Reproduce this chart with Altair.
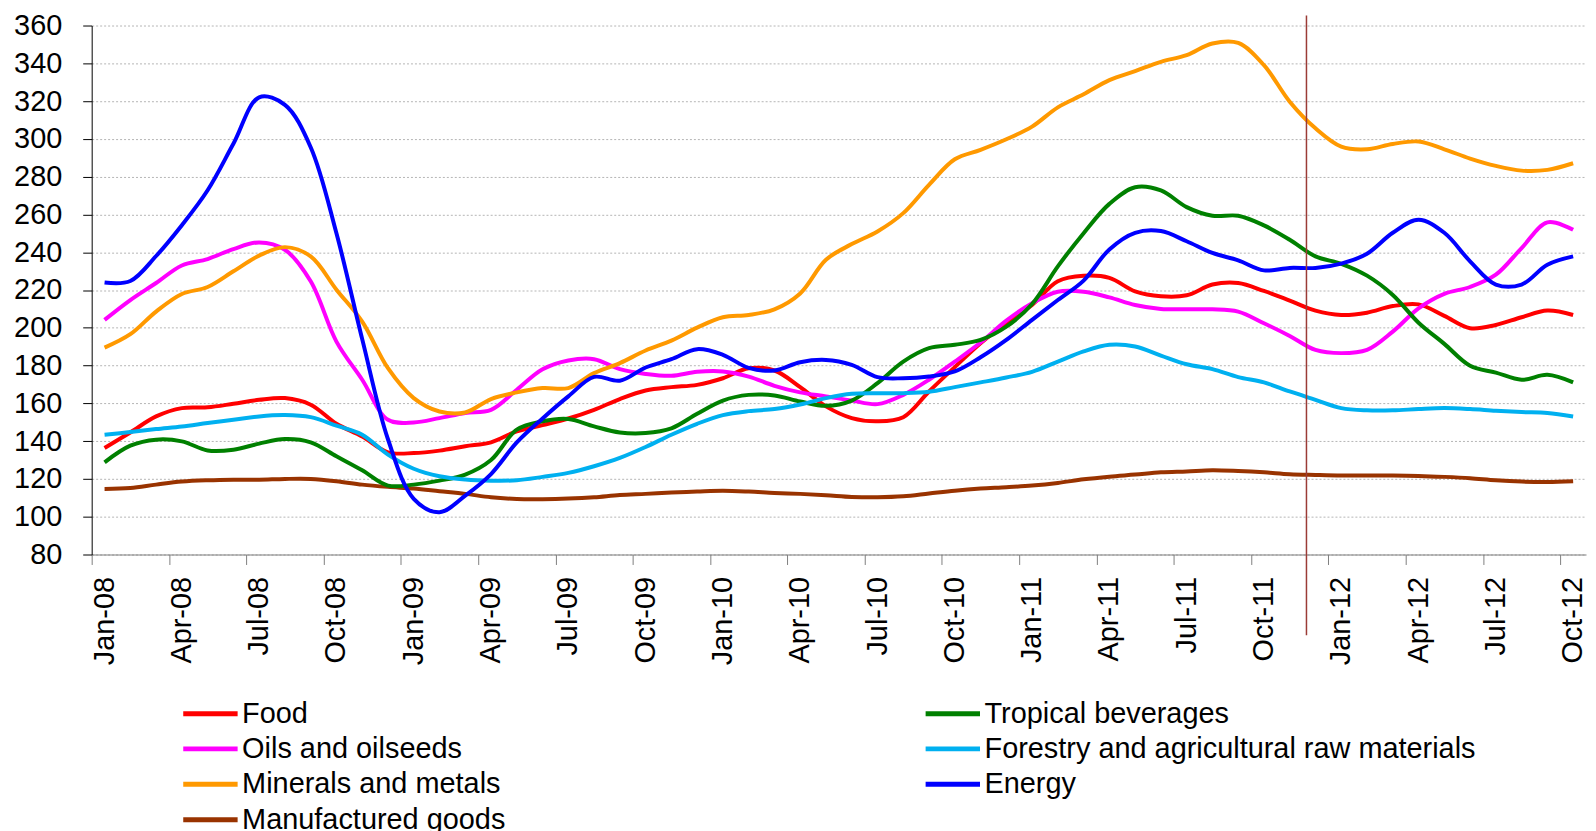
import altair as alt
import pandas as pd

months = [f"{m}-{y:02d}" for y in range(8, 13) for m in
          ["Jan", "Feb", "Mar", "Apr", "May", "Jun", "Jul", "Aug", "Sep", "Oct", "Nov", "Dec"]][:58]

food = [136.4, 144.6, 153.1, 157.5, 157.9, 159.8, 161.9, 162.8, 159.3, 149.2,
        142.5, 134.1, 133.7, 135, 137.3, 139.4, 145.2, 148.5, 152, 156.6,
        162.3, 166.8, 168.6, 169.8, 173.3, 178.6, 177.4, 168.6, 158.4, 152.2,
        150.5, 152.7, 166.3, 179.2, 191.8, 202.7, 212.1, 224.6, 227.5, 226.4,
        219.3, 216.7, 217.2, 222.9, 223.7, 219.5, 214.4, 209.1, 206.8, 208,
        211.5, 212.4, 206.3, 199.8, 201.5, 205.6, 209.1, 206.8]
tropical = [128.8, 137.6, 140.8, 139.9, 135.1, 135.5, 138.7, 141.1, 139.4, 132,
            124.6, 116.5, 117, 119.1, 122.3, 130, 146.1, 150.5, 151.7, 147.8,
            144.6, 144.3, 146.8, 154.5, 161.5, 164.5, 164.2, 161, 158.7, 161.5,
            170.7, 182.1, 189.2, 191, 193.6, 200.6, 212.6, 232.5, 250.1, 265.6,
            274.4, 272.7, 263.9, 259.3, 259.3, 254.2, 246.6, 237.8, 233.9, 227.6,
            217.4, 202.7, 191.5, 179.9, 176.3, 172.5, 175.1, 171.1]
oils = [204.2, 214.7, 223.7, 233, 236.4, 241.7, 245.2, 241.3, 224.6, 192.7,
        172.5, 151.3, 149.9, 152.2, 154.9, 156.6, 167.2, 178, 182.7, 183.4,
        178.1, 175.6, 174.6, 176.7, 176.9, 174.2, 169.3, 165.8, 163.7, 161.5,
        159.6, 164.5, 172.5, 182.1, 192.2, 203.8, 213, 219.1, 219.1, 216.1,
        212.1, 210, 209.8, 209.8, 208.6, 202.4, 195.7, 188.3, 186.6, 188.3,
        198, 210.3, 218, 221.6, 228.1, 242.2, 255.8, 251.9]
forestry = [143.4, 144.8, 146.4, 147.8, 149.6, 151.3, 153.1, 153.8, 152.7, 148.2,
            143.4, 132.9, 125.4, 121.4, 119.7, 119.1, 119.3, 121.1, 123.2, 126.7,
            131.1, 136.9, 143.4, 149.2, 153.8, 155.9, 157, 159.4, 162.8, 165.1,
            165.4, 165.4, 166.1, 168.6, 171.1, 173.7, 176.7, 182.1, 187.5, 191,
            190.1, 185.3, 180.7, 178.1, 173.9, 171.1, 166.3, 161.9, 157.5, 156.3,
            156.3, 157, 157.5, 157, 156.1, 155.4, 154.9, 153.1]
minerals = [189.5, 196.6, 208.6, 217.9, 221.6, 229.9, 238.2, 242.7, 237.8, 220.2,
            203.3, 178.6, 162.8, 155.7, 155.2, 162.3, 165.8, 168.1, 168.1, 176,
            181.3, 188, 193.2, 200.1, 205.6, 206.8, 209.8, 218.2, 236, 244.3,
            251, 260.7, 275.7, 289.2, 294.2, 299.8, 306.5, 316.7, 323.6, 331.1,
            335.9, 340.8, 344.3, 350.5, 350.8, 339, 319.7, 305.6, 295.9, 294.5,
            297.3, 298.6, 294.5, 289.6, 285.7, 283.2, 283.6, 287.1]
energy = [224, 224.8, 238, 254.3, 272.8, 297.4, 322, 318, 295.6, 250,
          194, 141, 109.5, 102.4, 111.2, 122.6, 139.3, 152, 163.7, 174,
          172, 179, 183.4, 188.7, 185.7, 178.8, 177.4, 181.8, 183, 180.4,
          173.9, 173.3, 174.2, 176.9, 184.4, 193.6, 204.2, 214.7, 225, 241.5,
          250.3, 251.2, 245.8, 239.6, 235.7, 230.4, 231.7, 231.7, 234, 239.2,
          250.3, 257.2, 250.3, 235.2, 222.9, 222.9, 233.4, 237.8]
manufactured = [114.7, 115.2, 117, 118.6, 119.3, 119.6, 119.6, 120, 120, 118.8,
                117, 115.8, 114.9, 113.5, 112.1, 110.3, 109.4, 109.3, 109.6, 110.3,
                111.5, 112.1, 112.8, 113.3, 113.7, 113.3, 112.6, 112.1, 111.4, 110.5,
                110.3, 110.8, 112.3, 113.8, 114.9, 115.6, 116.5, 117.9, 119.8, 121.2,
                122.3, 123.5, 124, 124.6, 124.2, 123.5, 122.5, 122.1, 121.8, 121.8,
                121.8, 121.6, 121.1, 120.4, 119.3, 118.6, 118.4, 118.8]

# legend is filled column by column: left column first, then right column
names = ["Food", "Oils and oilseeds", "Minerals and metals", "Manufactured goods",
         "Tropical beverages", "Forestry and agricultural raw materials", "Energy"]
colors = ["#FF0000", "#FF00FF", "#FF9900", "#993300", "#008000", "#00B0F0", "#0000FF"]
series = [food, oils, minerals, manufactured, tropical, forestry, energy]

# vertical separator, in months since Jan-08 (early December 2011)
marker_pos = [47.15]

rows = []
for k, (name, vals) in enumerate(zip(names, series)):
    for i, v in enumerate(vals):
        rows.append({"series": name, "order": k, "t": i + 0.5, "value": v})
df = pd.DataFrame(rows)

marker_df = pd.DataFrame({"t": marker_pos})

W, H = 1500, 531
FONT = "Liberation Sans"

tick_vals = list(range(0, 58, 3))
tick_labels = [months[i] for i in tick_vals]
label_expr = "[" + ",".join(f"'{l}'" for l in tick_labels) + "][round(datum.value/3)]"

x_enc = alt.X(
    "t:Q",
    scale=alt.Scale(domain=[0, 58], nice=False, zero=False),
    axis=alt.Axis(values=tick_vals, labelExpr=label_expr, labelAngle=270,
                  labelAlign="right", labelBaseline="middle", labelOffset=12.5,
                  labelPadding=12, tickSize=10, grid=False, domainColor="#808080",
                  tickColor="#808080", labelFontSize=29, labelColor="black",
                  labelFont=FONT, labelFlush=False, labelOverlap=False,
                  labelBound=False, title=None),
)
y_enc = alt.Y(
    "value:Q",
    scale=alt.Scale(domain=[80, 360], nice=False, zero=False),
    axis=alt.Axis(values=list(range(80, 361, 20)), tickSize=9, labelPadding=21,
                  labelFontSize=29, labelColor="black", labelFont=FONT,
                  gridColor="#b5b5b5", gridDash=[2, 2], gridWidth=1,
                  domainColor="black", tickColor="black", title=None),
)

lines = alt.Chart(df).mark_line(strokeWidth=4, interpolate="catmull-rom").encode(
    x=x_enc,
    y=y_enc,
    color=alt.Color(
        "series:N",
        scale=alt.Scale(domain=names, range=colors),
        legend=alt.Legend(title=None, orient="none", legendX=102.7, legendY=674,
                          columns=2, columnPadding=411.2, rowPadding=3.6,
                          symbolType="M-2,0H2", symbolSize=745,
                          symbolStrokeWidth=5, labelFontSize=29, labelFont=FONT,
                          labelColor="black", labelOffset=15.3, labelLimit=0,
                          padding=0),
    ),
    order=alt.Order("order:Q"),
)

marker = alt.Chart(marker_df).mark_rule(color="#9B3B36", strokeWidth=1.5).encode(
    x=alt.X("t:Q"),
    y=alt.value(-10),
    y2=alt.value(H + 81),
)

chart = alt.layer(lines, marker).properties(
    width=W, height=H,
    autosize=alt.AutoSizeParams(type="none"),
    padding={"left": 84, "top": 16, "right": 2, "bottom": 290},
).configure_view(strokeWidth=0)

chart.save("out.html", embed_options={"renderer": "svg", "actions": False})
